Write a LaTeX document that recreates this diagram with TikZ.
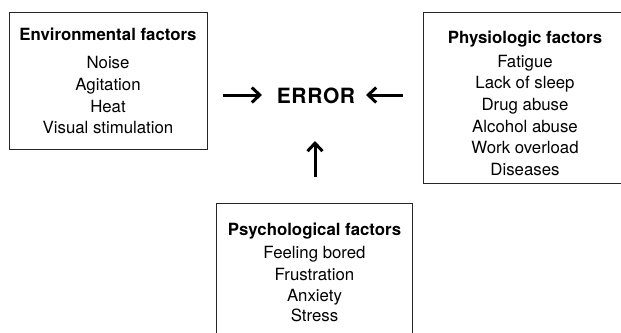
\documentclass[tikz,border=0pt]{standalone}
\usepackage{fontspec}
\setmainfont{TeX Gyre Heros}
\usetikzlibrary{arrows.meta}
\tikzset{
  box/.style={draw=black!85, line width=0.9pt, inner sep=0pt, minimum width=#1},
  txt/.style={anchor=base, inner sep=0pt, font=\fontsize{16.8}{20}\selectfont},
  ttl/.style={anchor=base, inner sep=0pt, font=\fontsize{16.8}{20}\selectfont\bfseries},
  bigarrow/.style={line width=3pt, -{Straight Barb[length=8pt,width=15pt]}}
}
\begin{document}
\begin{tikzpicture}[x=1pt,y=-1pt]
\useasboundingbox (0,0) rectangle (621,332);
\clip (0,0) rectangle (621,332);
% boxes
\node[box=198pt, minimum height=137pt] (envbox) at (108,80.5) {};
\node[box=217pt, minimum height=171pt] (physbox) at (531.5,97.5) {};
\node[box=196pt, minimum height=147pt] (psybox) at (314,276.5) {};
% environmental
\node[ttl] (env0) at (108,40) {Environmental factors};
\node[txt] (env1) at (108,68) {Noise};
\node[txt] (env2) at (108,90) {Agitation};
\node[txt] (env3) at (108,112) {Heat};
\node[txt] (env4) at (108,133) {Visual stimulation};
% physiologic
\node[ttl] (phy0) at (525,43) {Physiologic factors};
\node[txt] (phy1) at (525,67) {Fatigue};
\node[txt] (phy2) at (525,88.5) {Lack of sleep};
\node[txt] (phy3) at (525,110) {Drug abuse};
\node[txt] (phy4) at (525,132) {Alcohol abuse};
\node[txt] (phy5) at (525,153.5) {Work overload};
\node[txt] (phy6) at (525,175) {Diseases};
% psychological
\node[ttl] (psy0) at (314.5,235) {Psychological factors};
\node[txt] (psy1) at (314.5,258) {Feeling bored};
\node[txt] (psy2) at (314.5,280) {Frustration};
\node[txt] (psy3) at (314.5,301) {Anxiety};
\node[txt] (psy4) at (314.5,321) {Stress};
% error
\node[anchor=base, inner sep=0pt, font=\fontsize{21}{24}\selectfont\bfseries] (err) at (316,103) {E\kern0.6pt R\kern0.6pt R\kern0.6pt O\kern0.6pt R};
% arrows
\coordinate (a1s) at (223,95);
\coordinate (a1e) at (262,95);
\coordinate (a2s) at (403,95);
\coordinate (a2e) at (366,95);
\coordinate (a3s) at (315,177);
\coordinate (a3e) at (315,141);
\draw[bigarrow] (a1s) -- (a1e);
\draw[bigarrow] (a2s) -- (a2e);
\draw[bigarrow] (a3s) -- (a3e);
\end{tikzpicture}
\end{document}
